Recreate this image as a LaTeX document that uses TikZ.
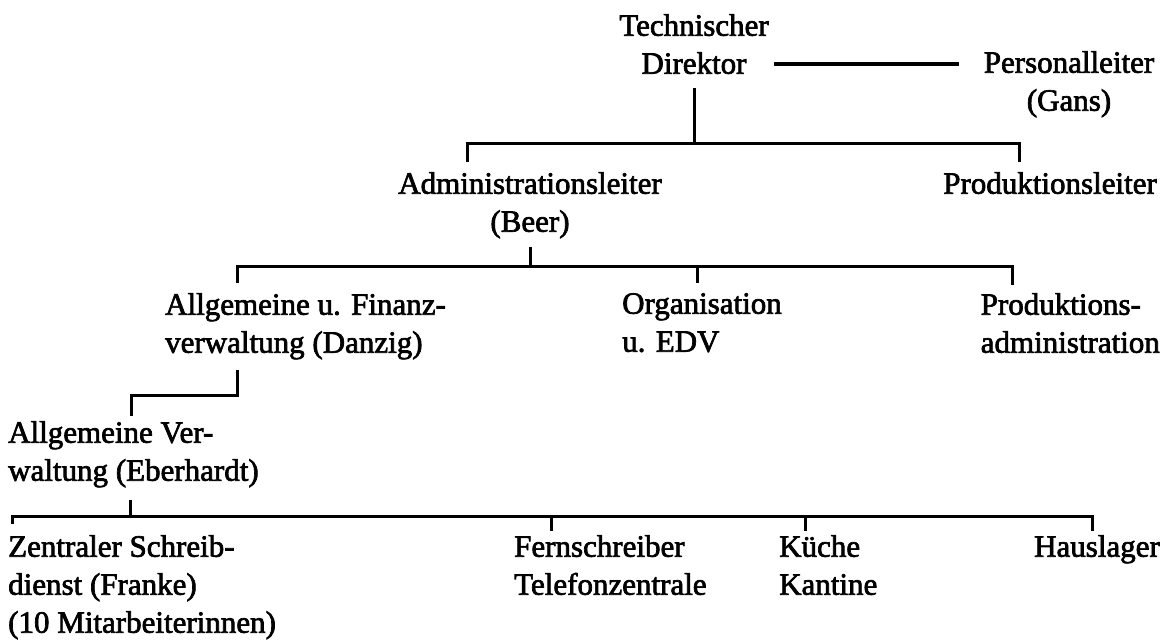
\documentclass[tikz,border=0pt]{standalone}
\usepackage{fontspec}
\setmainfont{Liberation Serif}[FakeBold=2.2]
\usepackage{tikz}
\usetikzlibrary{positioning}
\tikzset{unit/.style = {font = \fontsize{31}{38}\selectfont, inner sep = 0, align = left}}
\tikzset{bar/.style = {line width = 3pt, line join = miter, line cap = butt}}

\begin{document}
\begin{tikzpicture}[x=1pt, y=-1pt]
          \useasboundingbox (0, 0) rectangle (1162, 643);

          \node [unit, align=center, anchor=north] (tech) at (694, 14) {Technischer\\Direktor};
          \node [unit, align=center, anchor=north] (pers) at (1069, 51) {Personalleiter\\(Gans)};
          \node [unit, align=center, anchor=north] (admin) at (530, 172) {Administrationsleiter\\(Beer)};
          \node [unit, anchor=north east] (prod) at (1157, 172) {Produktionsleiter};
          \node [unit, anchor=north west] (allg) at (165, 293) {Allgemeine u. Finanz-\\verwaltung (Danzig)};
          \node [unit, anchor=north west] (org) at (622, 293) {Organisation\\u. EDV};
          \node [unit, anchor=north east] (prodadm) at (1160, 293) {Produktions-\\administration};
          \node [unit, anchor=north west] (allgv) at (8, 421) {Allgemeine Ver-\\waltung (Eberhardt)};
          \node [unit, anchor=north west] (zentral) at (8, 535) {Zentraler Schreib-\\dienst (Franke)\\(10 Mitarbeiterinnen)};
          \node [unit, anchor=north west] (fern) at (514, 535) {Fernschreiber\\Telefonzentrale};
          \node [unit, anchor=north west] (kueche) at (779, 535) {Küche\\Kantine};
          \node [unit, anchor=north east] (haus) at (1160, 535) {Hauslager};

          \coordinate (dl) at (0, 64);
          \coordinate (b1) at (694, 143);
          \coordinate (b1l) at (467, 143);
          \coordinate (b1r) at (1019, 143);
          \coordinate (b2) at (530, 266);
          \coordinate (b2l) at (237, 266);
          \coordinate (b2o) at (697, 266);
          \coordinate (b2r) at (1012, 266);
          \coordinate (e1) at (237, 395);
          \coordinate (e2) at (131, 395);
          \coordinate (b4) at (130, 516);
          \coordinate (b4l) at (12, 516);
          \coordinate (b4f) at (551, 516);
          \coordinate (b4k) at (805, 516);
          \coordinate (b4r) at (1092, 516);

          \draw [bar, line width=3.6pt, shorten <=5, shorten >=25] (tech.east |- dl) -- (pers.west |- dl);
          \draw [bar, shorten <=14] (tech.south) -- (b1);
          \draw [bar, shorten <=10, shorten >=10] (b1l |- admin.north) -- (b1l) -- (b1r) -- (b1r |- prod.north);

          \draw [bar, shorten <=8] (admin.south) -- (b2);
          \draw [bar, shorten <=10, shorten >=8] (b2l |- allg.north) -- (b2l) -- (b2r) -- (b2r |- prodadm.north);
          \draw [bar, shorten >=10] (b2o) -- (b2o |- org.north);

          \draw [bar, shorten <=10, shorten >=5] (e1 |- allg.south) -- (e1) -- (e2) -- (e2 |- allgv.north);

          \draw [bar, shorten <=12] (b4 |- allgv.south) -- (b4);
          \draw [bar, shorten <=11, shorten >=4] (b4l |- zentral.north) -- (b4l) -- (b4r) -- (b4r |- haus.north);
          \draw [bar, shorten >=4] (b4f) -- (b4f |- fern.north);
          \draw [bar, shorten >=4] (b4k) -- (b4k |- kueche.north);
        \end{tikzpicture}
\end{document}
